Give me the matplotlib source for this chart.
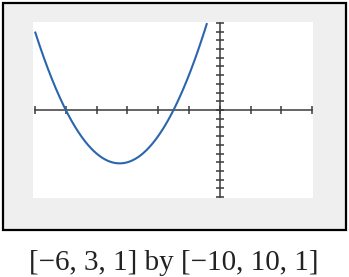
import numpy as np
import matplotlib
matplotlib.use("Agg")
import matplotlib.pyplot as plt
from matplotlib.patches import Rectangle

# Window settings [xmin, xmax, xscl] by [ymin, ymax, yscl]
x_window = [-6, 3, 1]
y_window = [-10, 10, 1]
# Graphed function: y = 2x^2 + 13x + 15
coefficients = [2, 13, 15]
caption = "[\u22126, 3, 1] by [\u221210, 10, 1]"

W, H = 349, 277
fig = plt.figure(figsize=(W / 100, H / 100), dpi=100)
fig.patch.set_facecolor("white")

def fx(px):
    return px / W

def fy(py):
    return 1 - py / H

# outer frame
frame = Rectangle((fx(3), fy(230)), fx(343), (227) / H, transform=fig.transFigure,
                  facecolor="#efefef", edgecolor="black", linewidth=1.6, zorder=-5)
fig.patches.append(frame)

# plot area (white)
ax = fig.add_axes([fx(33), fy(198), fx(280), 176 / H])
ax.set_zorder(2)
ax.set_facecolor("white")
ax.set_xlim(x_window[0] - 0.065, x_window[1] + 0.03)
ax.set_ylim(y_window[0] - 0.1, y_window[1] + 0.1)

for s in ["top", "right"]:
    ax.spines[s].set_visible(False)
axis_color = "#3a3a3a"
ax.spines["left"].set_position(("data", 0))
ax.spines["bottom"].set_position(("data", 0))
ax.spines["left"].set_bounds(y_window[0], y_window[1])
ax.spines["bottom"].set_bounds(x_window[0], x_window[1])
for s in ["left", "bottom"]:
    ax.spines[s].set_color(axis_color)
    ax.spines[s].set_linewidth(1.1)

ax.set_xticks(np.arange(x_window[0], x_window[1] + 1, x_window[2]))
ax.set_yticks(np.arange(y_window[0], y_window[1] + 1, y_window[2]))
ax.tick_params(direction="inout", length=5.5, width=1.1, color=axis_color,
               labelbottom=False, labelleft=False)

xs = np.linspace(x_window[0], x_window[1], 2000)
ys = np.polyval(coefficients, xs)
ys = np.where(ys <= y_window[1], ys, np.nan)
ax.plot(xs, ys, color="#2b65ae", linewidth=1.5, solid_capstyle="butt", zorder=3)

fig.text(fx(173.5), fy(269.5), caption, ha="center", va="baseline",
         fontsize=21, family="Liberation Serif", color="#222222")

fig.savefig("out.png", dpi=100)
